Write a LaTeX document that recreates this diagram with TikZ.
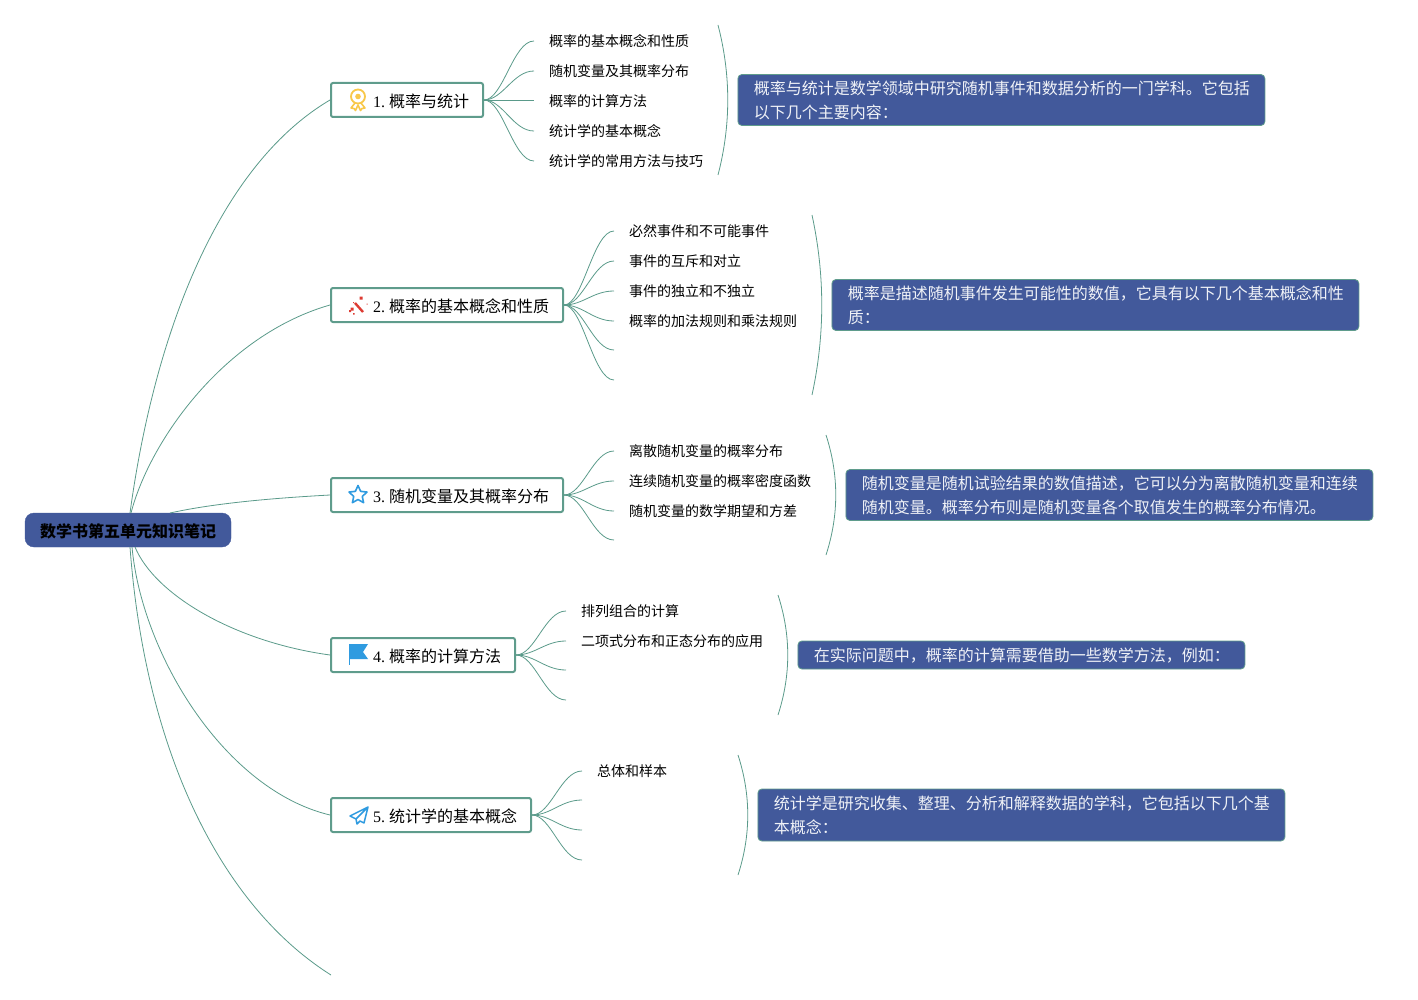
\documentclass[tikz,border=0pt]{standalone}
\usepackage{fontspec}
\setmainfont{Liberation Serif}
\newfontfamily\cjk{Noto Sans CJK SC}
\definecolor{rootblue}{HTML}{42599B}
\definecolor{linkgreen}{HTML}{5A9A8A}
\definecolor{boxgreen}{HTML}{5F9C8C}
\definecolor{iconblue}{HTML}{2F9BE0}
\definecolor{icongold}{HTML}{F8C84A}
\definecolor{iconred}{HTML}{DD3B32}
\tikzset{
  rootbox/.style={draw=rootblue, fill=rootblue, rounded corners=9pt, inner sep=0pt, minimum width=206pt, minimum height=34pt, text height=14.6pt, text depth=0.4pt, font=\fontsize{16}{24}\selectfont\cjk\bfseries, text=black},
  topic/.style={draw=boxgreen, line width=2pt, fill=white, rounded corners=2pt, inner sep=0pt, minimum height=34pt, text height=14.6pt, text depth=0.4pt, font=\fontsize{16}{24}\selectfont\cjk, text=black, anchor=west},
  leaf/.style={inner sep=0pt, inner xsep=15pt, text height=12pt, text depth=1pt, font=\fontsize{14}{20}\selectfont\cjk, text=black, anchor=west},
  note/.style={draw=boxgreen, fill=rootblue, line width=0.8pt, rounded corners=4pt, inner xsep=16pt, inner ysep=0pt, align=left, font=\fontsize{16}{24}\selectfont\cjk, text=white!92!rootblue, anchor=west},
  link/.style={draw=linkgreen, line width=0.8pt},
}
\begin{document}
\begin{tikzpicture}[x=1pt, y=-1pt]
\useasboundingbox (0,0) rectangle (1418,1000);

% root and branches
\draw
(128, 530) node[rootbox](root){数学书第五单元知识笔记}
(330, 100) node[topic, minimum width=152pt](t1){\hspace{28pt}{\rmfamily 1.\hspace{4pt}}概率与统计}
(330, 305) node[topic, minimum width=232pt](t2){\hspace{28pt}{\rmfamily 2.\hspace{4pt}}概率的基本概念和性质}
(330, 495) node[topic, minimum width=232pt](t3){\hspace{28pt}{\rmfamily 3.\hspace{4pt}}随机变量及其概率分布}
(330, 655) node[topic, minimum width=184pt](t4){\hspace{28pt}{\rmfamily 4.\hspace{4pt}}概率的计算方法}
(330, 815) node[topic, minimum width=200pt](t5){\hspace{28pt}{\rmfamily 5.\hspace{4pt}}统计学的基本概念};
\coordinate (r1) at (130, 513);
\coordinate (r2) at (131, 513);
\coordinate (r3) at (170, 513);
\coordinate (r4) at (135, 547);
\coordinate (r5) at (132, 547);
\coordinate (r6) at (130, 547);
\coordinate (t6) at (331, 975);

\draw[link] (r1) .. controls (155, 330) and (220, 165) .. (t1.west);
\draw[link] (r2) .. controls (150, 440) and (225, 335) .. (t2.west);
\draw[link] (r3) .. controls (215, 503) and (275, 498) .. (t3.west);
\draw[link] (r4) .. controls (155, 595) and (235, 642) .. (t4.west);
\draw[link] (r5) .. controls (142, 655) and (225, 790) .. (t5.west);
\draw[link] (r6) .. controls (145, 750) and (220, 905) .. (t6);

% leaves
\draw
(534, 41) node[leaf](a1){概率的基本概念和性质}
(534, 71) node[leaf](a2){随机变量及其概率分布}
(534, 101) node[leaf](a3){概率的计算方法}
(534, 131) node[leaf](a4){统计学的基本概念}
(534, 161) node[leaf](a5){统计学的常用方法与技巧}
(614, 231) node[leaf](b1){必然事件和不可能事件}
(614, 261) node[leaf](b2){事件的互斥和对立}
(614, 291) node[leaf](b3){事件的独立和不独立}
(614, 321) node[leaf](b4){概率的加法规则和乘法规则}
(614, 451) node[leaf](c1){离散随机变量的概率分布}
(614, 481) node[leaf](c2){连续随机变量的概率密度函数}
(614, 511) node[leaf](c3){随机变量的数学期望和方差}
(566, 611) node[leaf](d1){排列组合的计算}
(566, 641) node[leaf](d2){二项式分布和正态分布的应用}
(582, 771) node[leaf](e1){总体和样本};
\coordinate (b5) at (614, 350);
\coordinate (b6) at (614, 380);
\coordinate (c4) at (614, 540);
\coordinate (d3) at (566, 670);
\coordinate (d4) at (566, 700);
\coordinate (e2) at (582, 800);
\coordinate (e3) at (582, 830);
\coordinate (e4) at (582, 860);

\draw[link] (t1.east) .. controls (503, 100) and (513, 41) .. (a1.west);
\draw[link] (t1.east) .. controls (503, 100) and (513, 71) .. (a2.west);
\draw[link] (t1.east) -- (t1.east -| a3.west);
\draw[link] (t1.east) .. controls (503, 100) and (513, 131) .. (a4.west);
\draw[link] (t1.east) .. controls (503, 100) and (513, 161) .. (a5.west);

\draw[link] (t2.east) .. controls (583, 305) and (593, 231) .. (b1.west);
\draw[link] (t2.east) .. controls (583, 305) and (593, 261) .. (b2.west);
\draw[link] (t2.east) .. controls (583, 305) and (593, 291) .. (b3.west);
\draw[link] (t2.east) .. controls (583, 305) and (593, 321) .. (b4.west);
\draw[link] (t2.east) .. controls (583, 305) and (593, 350) .. (b5);
\draw[link] (t2.east) .. controls (583, 305) and (593, 380) .. (b6);

\draw[link] (t3.east) .. controls (583, 495) and (593, 451) .. (c1.west);
\draw[link] (t3.east) .. controls (583, 495) and (593, 481) .. (c2.west);
\draw[link] (t3.east) .. controls (583, 495) and (593, 511) .. (c3.west);
\draw[link] (t3.east) .. controls (583, 495) and (593, 540) .. (c4);

\draw[link] (t4.east) .. controls (535, 655) and (545, 611) .. (d1.west);
\draw[link] (t4.east) .. controls (535, 655) and (545, 641) .. (d2.west);
\draw[link] (t4.east) .. controls (535, 655) and (545, 670) .. (d3);
\draw[link] (t4.east) .. controls (535, 655) and (545, 700) .. (d4);

\draw[link] (t5.east) .. controls (551, 815) and (561, 771) .. (e1.west);
\draw[link] (t5.east) .. controls (551, 815) and (561, 800) .. (e2);
\draw[link] (t5.east) .. controls (551, 815) and (561, 830) .. (e3);
\draw[link] (t5.east) .. controls (551, 815) and (561, 860) .. (e4);

% brackets
\coordinate (p1) at (718, 25);
\coordinate (q1) at (718, 175);
\coordinate (p2) at (812, 215);
\coordinate (q2) at (812, 395);
\coordinate (p3) at (826, 435);
\coordinate (q3) at (826, 555);
\coordinate (p4) at (778, 595);
\coordinate (q4) at (778, 715);
\coordinate (p5) at (738, 755);
\coordinate (q5) at (738, 875);
\draw[link] (p1) .. controls (731, 75) and (731, 125) .. (q1);
\draw[link] (p2) .. controls (825, 275) and (825, 335) .. (q2);
\draw[link] (p3) .. controls (839, 475) and (839, 515) .. (q3);
\draw[link] (p4) .. controls (791, 635) and (791, 675) .. (q4);
\draw[link] (p5) .. controls (751, 795) and (751, 835) .. (q5);

% notes
\draw
(737.5, 100) node[note, text width=495pt, minimum height=51pt](n1){概率与统计是数学领域中研究随机事件和数据分析的一门学科。它包括\\以下几个主要内容：}
(831.5, 305) node[note, text width=495pt, minimum height=51pt](n2){概率是描述随机事件发生可能性的数值，它具有以下几个基本概念和性\\质：}
(845.5, 495) node[note, text width=495pt, minimum height=51pt](n3){随机变量是随机试验结果的数值描述，它可以分为离散随机变量和连续\\随机变量。概率分布则是随机变量各个取值发生的概率分布情况。}
(797.5, 655) node[note, text width=415pt, minimum height=28pt, text height=14pt, text depth=1pt](n4){在实际问题中，概率的计算需要借助一些数学方法，例如：}
(757.5, 815) node[note, text width=495pt, minimum height=52pt](n5){统计学是研究收集、整理、分析和解释数据的学科，它包括以下几个基\\本概念：};

% icons
\begin{scope}[shift={(358, 100)}]
\draw[draw=icongold, line width=1.6pt, line join=round] (-3,3) -- (-7,8) -- (-4,8.5) -- (-2.5,10.5) -- (0,5) -- (2.5,10.5) -- (4,8.5) -- (7,8) -- (3,3);
\draw[draw=icongold, fill=white, line width=1.8pt] (0,-3.5) circle (7pt);
\fill[icongold] (0,-3.5) circle (2.8pt);
\end{scope}
\begin{scope}[shift={(358, 305)}, iconred]
\draw[line width=2.4pt] (-3,-2) -- (5,7);
\fill (1.5,-8.5) rectangle (4.5,-5.5) (-7.5,2.5) rectangle (-4.5,5.5) (-9,5) rectangle (-7,7) (-5,-3) rectangle (-4,-2) (8.5,-1.5) rectangle (9.5,-0.5) (-5,8) rectangle (-3.5,9.5);
\end{scope}
\begin{scope}[shift={(358, 495)}, yscale=-1]
\draw[draw=iconblue, line width=1.6pt, line join=round] (90:9.5) -- (126:4.5) -- (162:9.5) -- (198:4.5) -- (234:9.5) -- (270:4.5) -- (306:9.5) -- (342:4.5) -- (18:9.5) -- (54:4.5) -- cycle;
\end{scope}
\begin{scope}[shift={(358, 655)}]
\fill[iconblue] (-9,-11) -- (10,-11) -- (5,-3) -- (10,4) -- (-9,4) -- cycle;
\draw[iconblue, line width=1pt] (-9,-11) -- (-9,10);
\end{scope}
\begin{scope}[shift={(358, 815)}]
\draw[draw=iconblue, line width=1.5pt, line join=round] (10,-8) -- (-8,1) -- (-2,4) -- (-1,9) -- (2,6) -- (6,8) -- cycle (-2,4) -- (10,-8);
\end{scope}

\end{tikzpicture}
\end{document}
